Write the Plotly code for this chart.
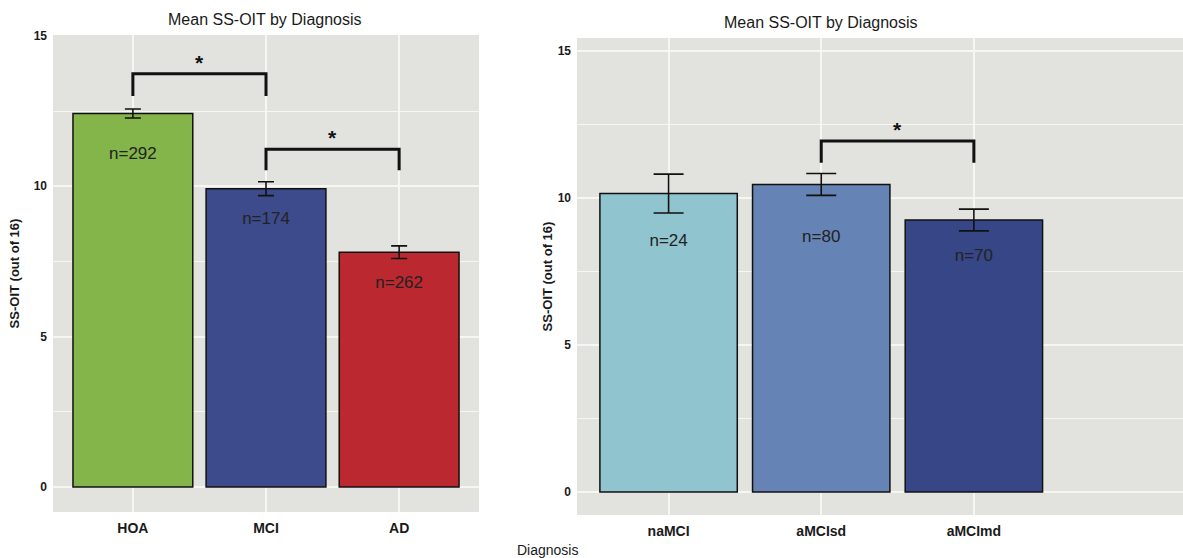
import plotly.graph_objects as go

# ---- data ----
left_cats = ["HOA", "MCI", "AD"]
left_means = [12.42, 9.92, 7.81]
left_err = [0.15, 0.23, 0.21]
left_n = ["n=292", "n=174", "n=262"]
left_n_y = [11.06, 8.9, 6.75]
left_colors = ["#84B54B", "#3D4B8C", "#BC2830"]

right_cats = ["naMCI", "aMCIsd", "aMCImd"]
right_means = [10.15, 10.46, 9.25]
right_err = [0.66, 0.37, 0.37]
right_n = ["n=24", "n=80", "n=70"]
right_n_y = [8.5, 8.64, 8.0]
right_colors = ["#90C4CF", "#6583B4", "#364686"]

# significance brackets: (from, to, bar-top, leg-bottom)
left_sig = [("HOA", "MCI", 13.74, 13.0), ("MCI", "AD", 11.23, 10.53)]
right_sig = [("aMCIsd", "aMCImd", 11.94, 11.2)]

title_text = "Mean SS-OIT by Diagnosis"
y_title = "<b>SS-OIT (out of 16)</b>"
x_title = "Diagnosis"

W, H = 1183, 558
BG = "#E2E2DE"
GRID = "#F7F7F2"
TXT = "#1a1a1a"
FONT = "Liberation Sans, Arial, sans-serif"

fig = go.Figure()

def add_panel(cats, means, errs, labels, label_y, colors, sig, xa, ya, cap):
    fig.add_trace(go.Bar(
        x=cats, y=means, width=0.9,
        marker=dict(color=colors, line=dict(color="#111111", width=1.5)),
        error_y=dict(type="data", array=errs, visible=True, color="#111111",
                     thickness=1.6, width=cap),
        xaxis=xa, yaxis=ya, showlegend=False, hoverinfo="skip"))
    fig.add_trace(go.Scatter(
        x=cats, y=label_y, mode="text", text=labels,
        textfont=dict(size=17, color="#222222", family=FONT),
        xaxis=xa, yaxis=ya, showlegend=False, hoverinfo="skip"))
    for a, b, top, leg in sig:
        fig.add_trace(go.Scatter(
            x=[a, a, b, b], y=[leg, top, top, leg], mode="lines",
            line=dict(color="#111111", width=3),
            xaxis=xa, yaxis=ya, showlegend=False, hoverinfo="skip"))
        ia, ib = cats.index(a), cats.index(b)
        fig.add_annotation(x=(ia + ib) / 2, y=top + 0.38, text="<b>*</b>",
                           showarrow=False, xref=xa, yref=ya.replace("axis", ""),
                           font=dict(size=21, color="#111111", family=FONT))

add_panel(left_cats, left_means, left_err, left_n, left_n_y, left_colors,
          left_sig, "x", "y", 8)
add_panel(right_cats, right_means, right_err, right_n, right_n_y, right_colors,
          right_sig, "x2", "y2", 15)

xcommon = dict(showline=False, zeroline=False, ticks="", automargin=False,
               tickfont=dict(size=14, color=TXT, family=FONT, weight="bold"),
               gridcolor=GRID, gridwidth=1.6, fixedrange=True, showgrid=True,
               type="category", ticklabelstandoff=6)
ycommon = dict(showline=False, zeroline=False, ticks="", automargin=False,
               tickfont=dict(size=12, color=TXT, family=FONT, weight="bold"),
               gridcolor=GRID, gridwidth=1.6, fixedrange=True, showgrid=True,
               tickvals=[0, 5, 10, 15], ticklabelstandoff=5,
               minor=dict(dtick=2.5, showgrid=True, gridcolor=GRID, gridwidth=0.8))

fig.update_layout(
    width=W, height=H, autosize=False,
    margin=dict(l=0, r=0, t=0, b=0),
    paper_bgcolor="white",
    plot_bgcolor=BG,
    font=dict(family=FONT, color=TXT),
    xaxis=dict(domain=[53 / W, 479 / W], range=[-0.6, 2.6], anchor="y", **xcommon),
    yaxis=dict(domain=[46 / H, 523 / H], range=[-0.83, 15.03], anchor="x",
               title=dict(text=y_title, standoff=11,
                          font=dict(size=13, color=TXT, family=FONT)),
               **ycommon),
    xaxis2=dict(domain=[577 / W, 1.0], range=[-0.6, 3.37], anchor="y2", **xcommon),
    yaxis2=dict(domain=[43 / H, 520 / H], range=[-0.78, 15.44], anchor="x2",
                title=dict(text=y_title, standoff=2,
                           font=dict(size=13, color=TXT, family=FONT)),
                **ycommon),
)

fig.add_annotation(x=265 / W, y=1 - 19 / H, xref="paper", yref="paper",
                   xanchor="center", yanchor="middle",
                   text=title_text, showarrow=False,
                   font=dict(size=16, color=TXT, family=FONT))
fig.add_annotation(x=821 / W, y=1 - 22 / H, xref="paper", yref="paper",
                   xanchor="center", yanchor="middle",
                   text=title_text, showarrow=False,
                   font=dict(size=16, color=TXT, family=FONT))
fig.add_annotation(x=547 / W, y=1 - 550 / H, xref="paper", yref="paper",
                   xanchor="center", yanchor="middle",
                   text=x_title, showarrow=False,
                   font=dict(size=14, color=TXT, family=FONT))

fig.write_html("out.html", config={"displayModeBar": False},
               post_script="document.body.style.margin='0';document.body.style.overflow='hidden';")
